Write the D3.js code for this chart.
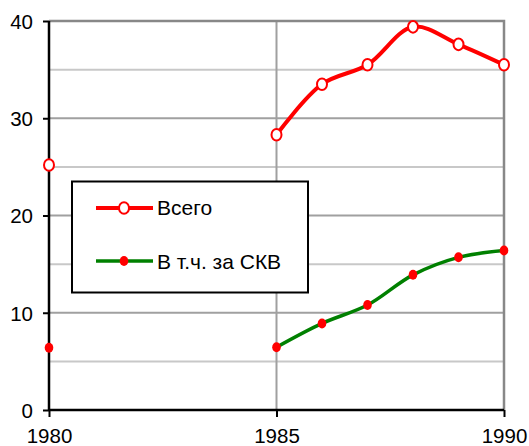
<!DOCTYPE html>
<html><head><meta charset="utf-8">
<script src="https://cdn.jsdelivr.net/npm/d3@7"></script>
<style>body{margin:0;background:#fff}svg{display:block}text{font-family:"Liberation Sans",Arial,sans-serif}</style>
</head><body><svg id="c" width="529" height="446"></svg>
<script>
const years = [1980, 1985, 1986, 1987, 1988, 1989, 1990];
const total = [25.2, 28.3, 33.5, 35.5, 39.4, 37.6, 35.5];
const hardCurrency = [6.4, 6.45, 8.9, 10.8, 13.9, 15.7, 16.4];
const seriesNames = ["Всего", "В т.ч. за СКВ"];
const yTicks = [0, 10, 20, 30, 40];
const yMinor = [5, 15, 25, 35];
const xTicks = [1980, 1985, 1990];

const svg = d3.select("#c");
const x = d3.scaleLinear().domain([1980, 1990]).range([49, 504]);
const y = d3.scaleLinear().domain([0, 40]).range([410, 21]);

// grid
svg.append("g").selectAll("line").data(yMinor).join("line")
  .attr("x1", x(1980)).attr("x2", x(1990)).attr("y1", d => y(d)).attr("y2", d => y(d))
  .attr("stroke", "#c8c8c8").attr("stroke-width", 2);
svg.append("g").selectAll("line").data([10, 20, 30]).join("line")
  .attr("x1", x(1980)).attr("x2", x(1990)).attr("y1", d => y(d)).attr("y2", d => y(d))
  .attr("stroke", "#a0a0a0").attr("stroke-width", 2);
svg.append("line").attr("x1", x(1985)).attr("x2", x(1985)).attr("y1", y(0)).attr("y2", y(40))
  .attr("stroke", "#a0a0a0").attr("stroke-width", 2);
svg.append("path").attr("d", `M${x(1980)},${y(40)}H${x(1990)}V${y(0)}`)
  .attr("fill", "none").attr("stroke", "#888").attr("stroke-width", 2.5);

// axes
const yAxis = svg.append("g").attr("transform", `translate(${x(1980)},0)`)
  .call(d3.axisLeft(y).tickValues(yTicks).tickSize(6).tickPadding(10).tickFormat(d3.format("d")));
const xAxis = svg.append("g").attr("transform", `translate(0,${y(0)})`)
  .call(d3.axisBottom(x).tickValues(xTicks).tickSize(7).tickPadding(4).tickFormat(d3.format("d")));
[yAxis, xAxis].forEach(a => {
  a.select(".domain").attr("stroke", "#000").attr("stroke-width", 2.5);
  a.selectAll(".tick line").attr("stroke", "#000").attr("stroke-width", 2);
  a.selectAll("text").attr("font-size", 20.5).attr("fill", "#000").attr("font-family", "'Liberation Sans',Arial,sans-serif");
});
yAxis.selectAll("text").attr("dy", "0.36em");
xAxis.selectAll("text").attr("y", 33).attr("dy", 0);
xAxis.select(".domain").attr("d", `M${x(1980)},0H${x(1990)}`);
yAxis.select(".domain").attr("d", `M0,${y(0)}V${y(40)}`);

// lines (only from 1985 onward connected)
const line = d3.line().x(d => x(d[0])).y(d => y(d[1])).curve(d3.curveCatmullRom.alpha(0.5));
const seg = (vals) => years.map((yr, i) => [yr, vals[i]]).filter(d => d[0] >= 1985);

svg.append("path").attr("d", line(seg(hardCurrency))).attr("fill", "none")
  .attr("stroke", "#008000").attr("stroke-width", 3.5).attr("stroke-linejoin", "round");
svg.append("path").attr("d", line(seg(total))).attr("fill", "none")
  .attr("stroke", "#ff0000").attr("stroke-width", 4).attr("stroke-linejoin", "round");

svg.append("g").selectAll("ellipse").data(years.map((yr, i) => [yr, hardCurrency[i]])).join("ellipse")
  .attr("cx", d => x(d[0])).attr("cy", d => y(d[1])).attr("rx", 4.3).attr("ry", 5)
  .attr("fill", "#ff0000");
svg.append("g").selectAll("ellipse").data(years.map((yr, i) => [yr, total[i]])).join("ellipse")
  .attr("cx", d => x(d[0])).attr("cy", d => y(d[1])).attr("rx", 5).attr("ry", 5.8)
  .attr("fill", "#fff").attr("stroke", "#ff0000").attr("stroke-width", 2);

// legend
const lg = svg.append("g");
lg.append("rect").attr("x", 72).attr("y", 181.5).attr("width", 236).attr("height", 111)
  .attr("fill", "#fff").attr("stroke", "#000").attr("stroke-width", 2);
const items = [{name: seriesNames[0], color: "#ff0000", open: true, yy: 208, base: 215},
               {name: seriesNames[1], color: "#008000", open: false, yy: 261, base: 269}];
items.forEach(it => {
  lg.append("line").attr("x1", 96).attr("x2", 153).attr("y1", it.yy).attr("y2", it.yy)
    .attr("stroke", it.color).attr("stroke-width", it.open ? 4 : 3.5);
  if (it.open) lg.append("ellipse").attr("cx", 124).attr("cy", it.yy).attr("rx", 5).attr("ry", 5.8)
      .attr("fill", "#fff").attr("stroke", "#ff0000").attr("stroke-width", 2);
  else lg.append("ellipse").attr("cx", 124).attr("cy", it.yy).attr("rx", 4.3).attr("ry", 5).attr("fill", "#ff0000");
  lg.append("text").attr("x", 157).attr("y", it.base).attr("font-size", 21).text(it.name);
});
</script></body></html>
